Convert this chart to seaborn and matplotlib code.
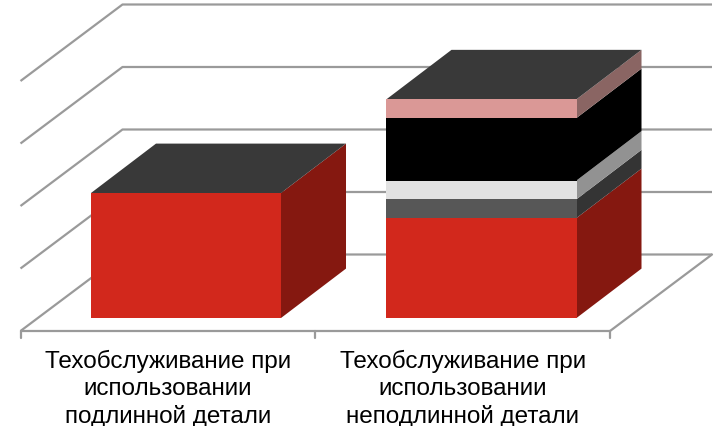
import matplotlib
matplotlib.use('Agg')
import matplotlib.pyplot as plt
import seaborn as sns

sns.set_theme(style="white")
plt.rcParams['font.family'] = ['Liberation Sans', 'DejaVu Sans']

# данные
categories = ['Техобслуживание при\nиспользовании\nподлинной детали',
              'Техобслуживание при\nиспользовании\nнеподлинной детали']
seg_red = [2.0, 1.6]
seg_dark = [0, 0.3]
seg_light = [0, 0.3]
seg_black = [0, 1.0]
seg_pink = [0, 0.3]
grid_values = [0, 1, 2, 3, 4]

# серия, цвет лицевой грани, цвет боковой грани
segments = [(seg_red, '#D2281C', '#851810'),
            (seg_dark, '#575757', '#343434'),
            (seg_light, '#E2E2E2', '#929292'),
            (seg_black, '#000000', '#000000'),
            (seg_pink, '#DA9896', '#8A6563')]
top_color = '#393939'
grid_color = '#9A9A9A'

# перевод пикселей в данные
px_x = 295.5
px_y = 62.5
x0 = 186
y0 = 319


def dx(px):
    return px / px_x


def dy(px):
    return px / px_y


fig = plt.figure(figsize=(7.15, 4.27), dpi=100)
ax = fig.add_axes([0, 0, 1, 1])

# пол и сетка (псевдо-3D)
fx0 = dx(20.5 - x0)
fx1 = dx(610 - x0)
back_x = dx(102)
back_y = dy(76.5)
zero_y = dy(-13)
end_x = fx1 + back_x
for g in grid_values:
    y = zero_y + g
    ax.plot([fx0, fx0 + back_x, end_x], [y, y + back_y, y + back_y],
            color=grid_color, lw=1.6, zorder=1, solid_capstyle='butt')
ax.plot([fx1, end_x], [zero_y, zero_y + back_y], color=grid_color, lw=1.6, zorder=1)
ax.plot([fx0, fx1], [zero_y, zero_y], color=grid_color, lw=1.6, zorder=1)
for i in range(3):
    tx = fx0 + (fx1 - fx0) * i / 2
    ax.plot([tx, tx], [zero_y, zero_y - dy(7)], color=grid_color, lw=1.6, zorder=1)

# лицевые грани
bottoms = [0, 0]
for vals, front, side in segments:
    sns.barplot(x=categories, y=vals, bottom=bottoms, color=front, width=0.643,
                saturation=1, edgecolor='none', linewidth=0, ax=ax, zorder=3)
    bottoms = [b + v for b, v in zip(bottoms, vals)]

# боковые и верхние грани
depth_x = dx(65)
depth_y = dy(49.4)
half = 0.643 / 2
bottoms = [0, 0]
for vals, front, side in segments:
    for i, v in enumerate(vals):
        if v == 0:
            continue
        r = i + half
        b = bottoms[i]
        ax.fill([r, r + depth_x, r + depth_x, r],
                [b, b + depth_y, b + v + depth_y, b + v],
                color=side, lw=0, zorder=2.5)
        bottoms[i] += v
for i, t in enumerate(bottoms):
    l = i - half
    r = i + half
    ax.fill([l, r, r + depth_x, l + depth_x],
            [t, t, t + depth_y, t + depth_y], color=top_color, lw=0, zorder=2.5)

# подписи
for i, label in enumerate(categories):
    cx = fx0 + (fx1 - fx0) * (i + 0.5) / 2
    ax.text(cx, dy(-31), label, ha='center', va='top', fontsize=17.5,
            color='black', linespacing=1.27)

ax.set_xlim(-x0 / px_x, (715 - x0) / px_x)
ax.set_ylim((y0 - 427) / px_y, y0 / px_y)
ax.axis('off')

fig.savefig('out.png', dpi=100)
